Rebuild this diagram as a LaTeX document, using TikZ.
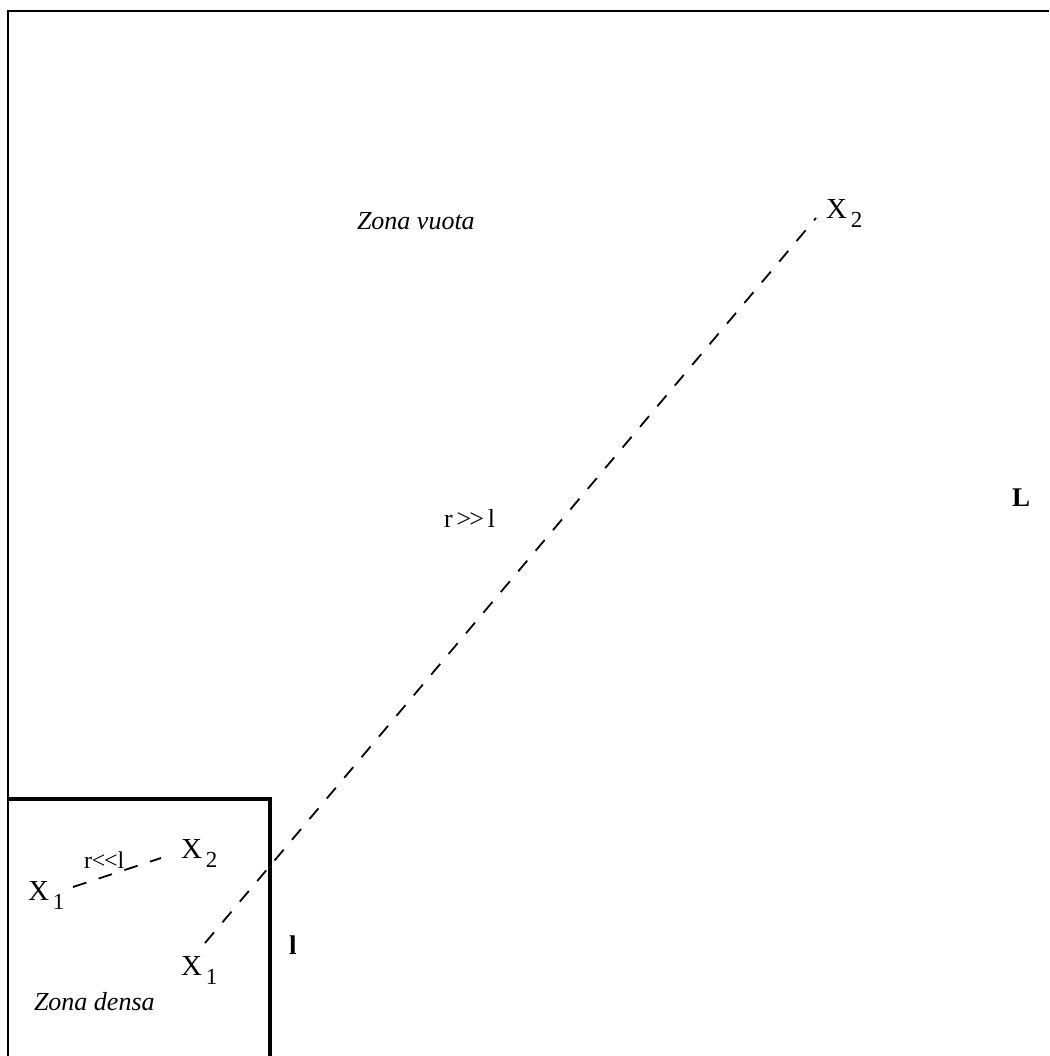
\documentclass[tikz,border=0pt]{standalone}
\usepackage{fontspec}
\setmainfont{Liberation Serif}[Ligatures=NoCommon]
\begin{document}
\begin{tikzpicture}[x=1pt,y=-1pt,
  lbl/.style={inner sep=0pt,outer sep=0pt},
  xlab/.style={lbl,anchor=base west,font=\fontsize{29}{29}\selectfont},
  zona/.style={lbl,anchor=base west,font=\fontsize{26}{26}\selectfont\itshape},
  bold/.style={lbl,anchor=base west,font=\fontsize{27}{27}\selectfont\bfseries},
  rel/.style={lbl,anchor=base west,font=\fontsize{26}{26}\selectfont},
  relsm/.style={lbl,anchor=base west,font=\fontsize{24}{24}\selectfont},
  dsh/.style={line width=1.8pt,dash pattern=on 14pt off 13pt},
  frame/.style={line width=1.5pt},
  thick box/.style={line width=4pt}]
\newcommand{\subsc}[1]{\raisebox{-9pt}{\fontsize{23}{23}\selectfont #1}}
\useasboundingbox (0,0) rectangle (1049,1056);
% outer frame
\draw[frame] (1049,11) -- (8,11) -- (8,1056);
% dense zone box
\draw[thick box] (8,799) -- (270,799) -- (270,1056);
% labels
\node[zona] (zv) at (357,230) {Zona vuota};
\node[zona] (zd) at (34,1010) {Zona densa};
\node[xlab] (x2t) at (826,219) {X\kern4pt\subsc{2}};
\node[xlab] (x1b) at (181,975) {X\kern4pt\subsc{1}};
\node[xlab] (x1l) at (28,900) {X\kern4pt\subsc{1}};
\node[xlab] (x2b) at (181,858) {X\kern4pt\subsc{2}};
\node[rel] (rbig) at (444,527) {r\kern4pt{>}\kern-2pt{>}\kern4pt l};
\node[relsm] (rsm) at (84,868) {r{<}\kern-1.5pt{<}l};
\node[bold] (ll) at (289,954) {l};
\node[bold] (LL) at (1012,506) {L};
% connector endpoints
\coordinate (a1) at (205,943);
\coordinate (a2) at (816,218);
\coordinate (b1) at (73,887);
\coordinate (b2) at (161,858);
\draw[dsh] (a1) -- (a2);
\draw[dsh] (b1) -- (b2);
\end{tikzpicture}
\end{document}
